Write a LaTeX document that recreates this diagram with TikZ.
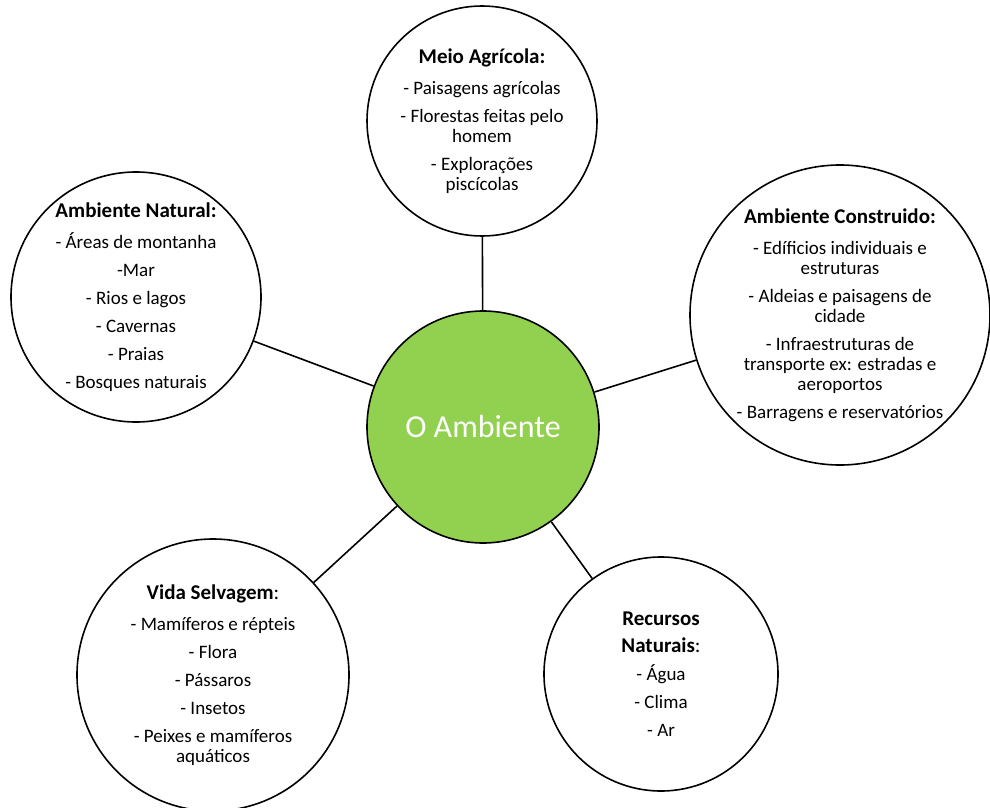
\documentclass[tikz,border=0pt]{standalone}
\usepackage{fontspec}
\setmainfont{Carlito}
\usepackage{tikz}
\definecolor{ambgreen}{HTML}{92D050}

\newcommand{\topichead}[1]{{\fontsize{21}{21}\selectfont\bfseries #1}}

\tikzset{
  topic/.style={draw, circle, line width=1.6pt, align=center, inner sep=0pt,
    font={\fontsize{19}{20}\selectfont\lineskiplimit=-50pt}},
  hub/.style={topic, fill=ambgreen, text=white, font=\fontsize{32}{36}\selectfont},
  link/.style={line width=1.6pt}
}

\begin{document}
\begin{tikzpicture}[x=1pt, y=-1pt]
  \useasboundingbox (0,0) rectangle (990,808);

  % centre
  \node[hub, minimum size=232pt] (amb) at (483,427) {O Ambiente};

  % topics round the centre
  \node[topic, minimum size=230pt] (agri) at (482,121)
       {\topichead{Meio Agrícola:}\\[11pt]- Paisagens agrícolas\\[8pt]- Florestas feitas pelo\\homem\\[8pt]- Explorações\\piscícolas};

  \node[topic, minimum size=250pt] (nat) at (136,297)
       {\topichead{Ambiente Natural:}\\[11pt]- Áreas de montanha\\[8pt]-Mar\\[8pt]- Rios e lagos\\[8pt]- Cavernas\\[8pt]- Praias\\[8pt]- Bosques naturais};

  \node[topic, minimum size=300pt] (constr) at (840,315)
       {\topichead{Ambiente Construido:}\\[11pt]- Edíficios individuais e\\estruturas\\[8pt]- Aldeias e paisagens de\\cidade\\[8pt]- Infraestruturas de\\transporte ex: estradas e\\aeroportos\\[8pt]- Barragens e reservatórios};

  \node[topic, minimum size=272pt] (vida) at (213,675)
       {\topichead{Vida Selvagem}{\fontsize{21}{21}\selectfont:}\\[11pt]- Mamíferos e répteis\\[8pt]- Flora\\[8pt]- Pássaros\\[8pt]- Insetos\\[8pt]- Peixes e mamíferos\\aquáticos};

  \node[topic, minimum size=234pt] (rec) at (661,674)
       {\topichead{Recursos}\\[7pt]\topichead{Naturais}{\fontsize{21}{21}\selectfont:}\\[8pt]- Água\\[8pt]- Clima\\[8pt]- Ar};

  \draw[link] (amb) -- (agri);
  \draw[link] (amb) -- (nat);
  \draw[link] (amb) -- (constr);
  \draw[link] (amb) -- (vida);
  \draw[link] (amb) -- (rec);

\end{tikzpicture}
\end{document}
